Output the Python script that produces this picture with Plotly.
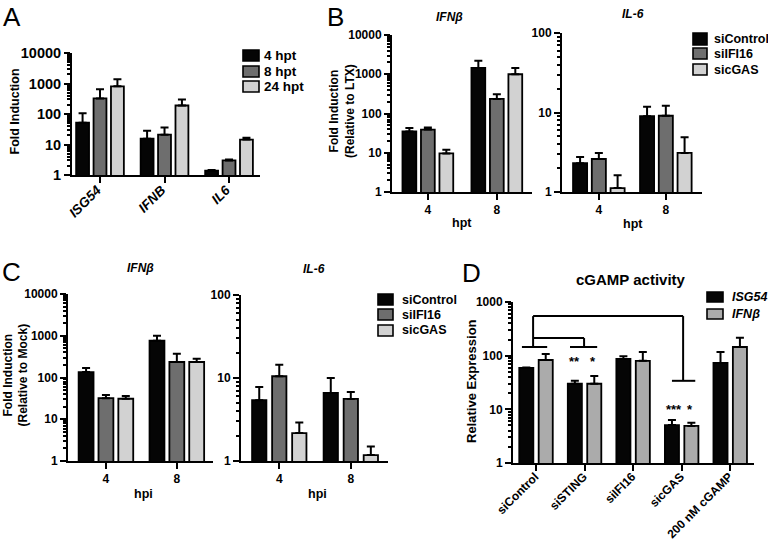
import plotly.graph_objects as go

W, H = 768, 543
FONT = "Liberation Sans, Arial, Helvetica, sans-serif"

# ---------------- data ----------------
# Panel A
A_genes = ["ISG54", "IFNB", "IL6"]
A_series = ["4 hpt", "8 hpt", "24 hpt"]
A_4hpt = [52, 15.5, 1.4]
A_4hpt_err = [53, 12.5, 0.05]
A_8hpt = [325, 21, 3.0]
A_8hpt_err = [325, 15, 0.2]
A_24hpt = [810, 190, 14.5]
A_24hpt_err = [570, 110, 2.0]

# Panel B (hpt)
B_times = ["4", "8"]
si_names = ["siControl", "siIFI16", "sicGAS"]
B_ifnb_siControl = [35, 1450]
B_ifnb_siControl_err = [8, 750]
B_ifnb_siIFI16 = [39, 235]
B_ifnb_siIFI16_err = [5, 75]
B_ifnb_sicGAS = [9.6, 1000]
B_ifnb_sicGAS_err = [2.4, 450]
B_il6_siControl = [2.3, 9.0]
B_il6_siControl_err = [0.45, 2.8]
B_il6_siIFI16 = [2.6, 9.1]
B_il6_siIFI16_err = [0.5, 3.1]
B_il6_sicGAS = [1.12, 3.1]
B_il6_sicGAS_err = [0.5, 1.8]

# Panel C (hpi)
C_times = ["4", "8"]
C_ifnb_siControl = [135, 760]
C_ifnb_siControl_err = [35, 240]
C_ifnb_siIFI16 = [32, 235]
C_ifnb_siIFI16_err = [6, 135]
C_ifnb_sicGAS = [31, 235]
C_ifnb_sicGAS_err = [5, 45]
C_il6_siControl = [5.4, 6.6]
C_il6_siControl_err = [2.4, 3.4]
C_il6_siIFI16 = [10.5, 5.6]
C_il6_siIFI16_err = [3.9, 1.2]
C_il6_sicGAS = [2.17, 1.18]
C_il6_sicGAS_err = [0.73, 0.32]

# Panel D
D_conditions = ["siControl", "siSTING", "siIFI16", "sicGAS", "200 nM cGAMP"]
D_series = ["ISG54", "IFNβ"]
D_isg54 = [59, 30, 87, 5.1, 73]
D_isg54_err = [1.5, 4, 11, 1.2, 44]
D_ifnb = [83, 30, 80, 4.9, 145]
D_ifnb_err = [24, 12, 37, 0.7, 70]

# tick labels
ticks_1e4 = [1, 10, 100, 1000, 10000]
ticks_1e3 = [1, 10, 100, 1000]
ticks_1e2 = [1, 10, 100]

# ---------------- helpers ----------------
def px(x):
    return x / W


def py(y):
    return 1 - y / H


BLACK = "#050505"
DARK = "#6e6e6e"
LIGHT = "#d2d2d2"
DGRAY = "#ababab"

fig = go.Figure()


def add_bar(x, y, err, name, color, xa, ya, center, width):
    fig.add_trace(go.Bar(
        x=x, y=y, name=name,
        marker=dict(color=color, line=dict(color="black", width=1.8)),
        error_y=dict(type="data", array=err, arrayminus=[0] * len(err),
                     symmetric=False, color="black", thickness=2, width=4),
        xaxis=xa, yaxis=ya, offset=center - width / 2, width=width,
        showlegend=False,
    ))


# Panel A
for vals, errs, name, col, c in [
    (A_4hpt, A_4hpt_err, A_series[0], BLACK, -0.27),
    (A_8hpt, A_8hpt_err, A_series[1], DARK, 0.0),
    (A_24hpt, A_24hpt_err, A_series[2], LIGHT, 0.27),
]:
    add_bar(A_genes, vals, errs, name, col, "x", "y", c, 0.2)

# Panel B left/right
for vals, errs, name, col, c in [
    (B_ifnb_siControl, B_ifnb_siControl_err, si_names[0], BLACK, -0.268),
    (B_ifnb_siIFI16, B_ifnb_siIFI16_err, si_names[1], DARK, 0.0),
    (B_ifnb_sicGAS, B_ifnb_sicGAS_err, si_names[2], LIGHT, 0.268),
]:
    add_bar(B_times, vals, errs, name, col, "x2", "y2", c, 0.2)
for vals, errs, name, col, c in [
    (B_il6_siControl, B_il6_siControl_err, si_names[0], BLACK, -0.28),
    (B_il6_siIFI16, B_il6_siIFI16_err, si_names[1], DARK, 0.0),
    (B_il6_sicGAS, B_il6_sicGAS_err, si_names[2], LIGHT, 0.28),
]:
    add_bar(B_times, vals, errs, name, col, "x3", "y3", c, 0.21)

# Panel C left/right
for vals, errs, name, col, c in [
    (C_ifnb_siControl, C_ifnb_siControl_err, si_names[0], BLACK, -0.28),
    (C_ifnb_siIFI16, C_ifnb_siIFI16_err, si_names[1], DARK, 0.0),
    (C_ifnb_sicGAS, C_ifnb_sicGAS_err, si_names[2], LIGHT, 0.28),
]:
    add_bar(C_times, vals, errs, name, col, "x4", "y4", c, 0.21)
for vals, errs, name, col, c in [
    (C_il6_siControl, C_il6_siControl_err, si_names[0], BLACK, -0.28),
    (C_il6_siIFI16, C_il6_siIFI16_err, si_names[1], DARK, 0.0),
    (C_il6_sicGAS, C_il6_sicGAS_err, si_names[2], LIGHT, 0.28),
]:
    add_bar(C_times, vals, errs, name, col, "x5", "y5", c, 0.2)

# Panel D
add_bar(D_conditions, D_isg54, D_isg54_err, D_series[0], BLACK, "x6", "y6", -0.2, 0.29)
add_bar(D_conditions, D_ifnb, D_ifnb_err, D_series[1], DGRAY, "x6", "y6", 0.2, 0.29)


def minors(decades):
    return [m * 10 ** d for d in range(decades) for m in range(2, 10)]


def yax(domain, anchor, majors, fs):
    dec = len(majors) - 1
    return dict(
        type="log", domain=domain, anchor=anchor, range=[0, dec], automargin=False,
        tickmode="array", tickvals=majors, ticktext=[str(v) for v in majors],
        showline=True, linewidth=2, linecolor="black", ticks="outside",
        ticklen=6, tickwidth=2, tickcolor="black", showgrid=False, zeroline=False,
        tickfont=dict(size=fs, weight="bold", color="black", family=FONT),
        minor=dict(tickmode="array", tickvals=minors(dec), ticks="outside",
                   ticklen=3, tickwidth=1.5, tickcolor="black", showgrid=False),
        fixedrange=True,
    )


def xax(domain, anchor, cats, rng, fs, angle=0, italic=False, shift=0, lstand=0):
    return dict(
        type="category", domain=domain, anchor=anchor, range=rng, automargin=False,
        categoryorder="array", categoryarray=cats,
        showline=True, linewidth=2, linecolor="black", ticks="outside",
        ticklen=6, tickwidth=2, tickcolor="black", showgrid=False, zeroline=False,
        tickangle=angle, ticklabelshift=shift, ticklabelstandoff=lstand,
        tickfont=dict(size=fs, weight="bold", color="black", family=FONT,
                      style="italic" if italic else "normal"),
        fixedrange=True,
    )


layout = dict(
    width=W, height=H, margin=dict(l=0, r=0, t=0, b=0, autoexpand=False),
    paper_bgcolor="white", plot_bgcolor="white", barmode="overlay",
    font=dict(family=FONT, color="black"), showlegend=False,
    xaxis=xax([px(72), px(260)], "y", A_genes, [-0.434, 2.48], 13.5, -45, True, -3, -6),
    yaxis=yax([py(175), py(53)], "x", ticks_1e4, 14.5),
    xaxis2=xax([px(392), px(532)], "y2", B_times, [-0.52, 1.51], 12),
    yaxis2=yax([py(192), py(35)], "x2", ticks_1e4, 12),
    xaxis3=xax([px(562), px(702)], "y3", B_times, [-0.55, 1.54], 12),
    yaxis3=yax([py(192), py(33)], "x3", ticks_1e2, 12),
    xaxis4=xax([px(68), px(213)], "y4", C_times, [-0.535, 1.51], 12),
    yaxis4=yax([py(461), py(294)], "x4", ticks_1e4, 12),
    xaxis5=xax([px(241), px(388)], "y5", C_times, [-0.535, 1.52], 12),
    yaxis5=yax([py(461), py(295)], "x5", ticks_1e2, 12),
    xaxis6=xax([px(513), px(754)], "y6", D_conditions, [-0.474, 4.49], 12, -45, False, -1, -6),
    yaxis6=yax([py(463), py(302)], "x6", ticks_1e3, 12),
)
fig.update_layout(**layout)

# ---------------- annotations ----------------
ann = []


def text(t, x, y, size, bold=True, angle=0, xanchor="center", italic=False, yanchor="middle"):
    ann.append(dict(text=t, x=px(x), y=py(y), xref="paper", yref="paper",
                    showarrow=False, xanchor=xanchor, yanchor=yanchor,
                    textangle=angle,
                    font=dict(size=size, family=FONT, color="black",
                              weight="bold" if bold else "normal",
                              style="italic" if italic else "normal")))


# panel letters
text("A", 1, 0, 26, bold=False, xanchor="left", yanchor="top")
text("B", 325, 0, 26, bold=False, xanchor="left", yanchor="top")
text("C", 0, 272, 26, bold=False, xanchor="left")
text("D", 460, 273, 26, bold=False, xanchor="left")
# titles
text("IFNβ", 449, 17, 12, italic=True)
text("IL-6", 633, 14, 12, italic=True)
text("IFNβ", 140, 268, 12, italic=True)
text("IL-6", 314, 269, 12, italic=True)
text("cGAMP activity", 631, 279, 15)
# axis titles
text("Fold Induction", 14.5, 112, 12.5, angle=-90)
text("Fold Induction<br>(Relative to LTX)", 342, 111, 12, angle=-90)
text("hpt", 462, 223, 12.5)
text("hpt", 633, 224, 12.5)
text("Fold Induction<br>(Relative to Mock)", 15.5, 375, 12, angle=-90)
text("hpi", 143, 494, 12.5)
text("hpi", 317, 494, 12.5)
text("Relative Expression", 471, 381, 13, angle=-90)


# legends (box + label)
def legend(entries, x0, x1, rows, tx, size, italic=False):
    for (label, color), (y0, y1) in zip(entries, rows):
        fig.add_shape(type="rect", xref="paper", yref="paper",
                      x0=px(x0), x1=px(x1), y0=py(y1), y1=py(y0),
                      fillcolor=color, line=dict(color="black", width=1.6))
        text(label, tx, (y0 + y1) / 2, size, xanchor="left", italic=italic)


legend(list(zip(A_series, [BLACK, DARK, LIGHT])), 243, 259,
       [(50, 61), (66, 77), (81, 92)], 262, 13.5)
legend(list(zip(si_names, [BLACK, DARK, LIGHT])), 693, 707,
       [(33, 45), (48, 59), (64, 75)], 712, 12.5)
legend(list(zip(si_names, [BLACK, DARK, LIGHT])), 378, 393,
       [(294, 305), (309, 320), (325, 336)], 400, 12.5)
legend(list(zip(D_series, [BLACK, DGRAY])), 707, 723,
       [(292, 302), (309, 319)], 730, 12.5, italic=True)

# significance stars in panel D (log-axis annotation coordinates)
for t, xc, ylog in [("**", 0.8, 1.9), ("*", 1.18, 1.9), ("***", 2.85, 1.0), ("*", 3.18, 1.0)]:
    ann.append(dict(text=t, x=xc, y=ylog, xref="x6", yref="y6", showarrow=False,
                    font=dict(size=13, family=FONT, color="black", weight="bold")))

fig.update_layout(annotations=ann)

# brackets in panel D (data coordinates)
top_y, mid_y, cap_y, gas_y = 546, 213, 145, 34
segs = [
    (-0.06, cap_y, -0.06, top_y),
    (-0.06, top_y, 3.03, top_y),
    (3.03, top_y, 3.03, gas_y),
    (-0.29, cap_y, 0.23, cap_y),
    (-0.06, mid_y, 0.99, mid_y),
    (0.99, mid_y, 0.99, cap_y),
    (0.70, cap_y, 1.26, cap_y),
    (2.80, gas_y, 3.28, gas_y),
]
for x0, y0, x1, y1 in segs:
    fig.add_shape(type="line", xref="x6", yref="y6", x0=x0, y0=y0, x1=x1, y1=y1,
                  line=dict(color="black", width=2))

fig.write_html(
    "out.html",
    config={"displayModeBar": False},
    post_script="document.body.style.margin='0px';document.body.style.overflow='hidden';",
)
